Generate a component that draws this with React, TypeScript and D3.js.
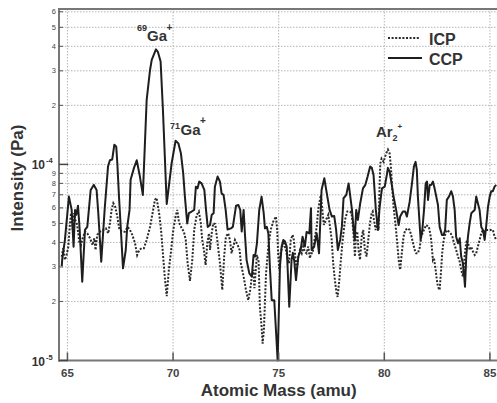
import React from "react";
import * as d3 from "d3";

// Intensities in units of 1e-5 Pa
const ccpMass = [64.73,64.75,64.88,65.07,65.20,65.29,65.36,65.42,65.50,65.58,
65.70,65.83,65.94,66.10,66.25,66.38,66.46,66.60,66.76,66.92,
67.01,67.12,67.22,67.31,67.36,67.44,67.53,67.63,67.76,67.83,
67.94,67.99,68.15,68.28,68.43,68.57,68.75,68.91,68.99,69.19,
69.28,69.41,69.52,69.70,69.93,70.12,70.25,70.37,70.48,70.56,
70.67,70.75,70.88,71.00,71.08,71.16,71.24,71.35,71.48,71.56,
71.64,71.75,71.83,71.92,71.98,72.11,72.22,72.30,72.39,72.49,
72.58,72.74,72.83,72.98,73.09,73.18,73.25,73.34,73.40,73.48,
73.61,73.73,73.81,73.88,73.97,74.08,74.19,74.29,74.35,74.44,
74.51,74.59,74.67,74.79,74.87,74.95,75.06,75.14,75.22,75.30,
75.38,75.50,75.61,75.67,75.74,75.82,75.93,76.04,76.13,76.24,
76.32,76.45,76.53,76.56,76.68,76.80,76.91,77.03,77.16,77.28,
77.41,77.52,77.63,77.72,77.80,77.91,77.99,78.07,78.20,78.31,
78.39,78.47,78.55,78.60,78.67,78.75,78.86,78.99,79.10,79.21,
79.33,79.41,79.49,79.60,79.70,79.78,79.89,80.02,80.12,80.17,
80.25,80.33,80.44,80.56,80.68,80.75,80.88,80.99,81.07,81.20,
81.31,81.40,81.48,81.54,81.59,81.67,81.72,81.80,81.88,81.96,
82.02,82.07,82.15,82.22,82.30,82.38,82.46,82.54,82.62,82.73,
82.81,82.88,82.96,83.06,83.17,83.25,83.33,83.40,83.49,83.57,
83.64,83.72,83.77,83.82,83.88,83.96,84.04,84.12,84.20,84.28,
84.35,84.43,84.51,84.59,84.67,84.75,84.82,84.91,84.99,85.06,
85.14,85.22,85.30];
const ccpVal = [3.03,3.26,4.12,6.85,5.86,3.8,5.86,5.53,6.15,4.63,
2.52,4.63,4.8,7.41,7.86,7.41,5.64,3.19,5.86,9.75,
10.5,10.6,12.6,12.3,10.2,6.85,4.63,2.95,3.66,4.8,
5.86,8.34,9.6,10.5,8.67,6.99,21.3,30.3,34.1,38.6,
37.5,33.5,19.0,6.29,10.1,13.2,12.8,11.4,9.0,6.85,
5.0,5.64,5.75,5.86,7.7,7.55,8.17,8.0,7.41,5.86,
4.8,4.91,5.53,5.64,7.7,8.67,8.17,7.1,6.99,5.86,
4.66,4.72,4.8,6.15,6.21,5.86,4.55,5.86,4.45,3.26,
2.78,2.68,3.45,3.39,3.96,5.86,6.85,5.64,4.72,4.8,
4.45,2.9,2.03,2.03,1.43,1.0,3.01,3.81,4.12,4.04,
3.81,1.88,3.26,3.54,3.2,2.57,3.39,3.66,4.28,3.81,
4.52,4.45,5.98,3.66,3.81,4.45,3.52,7.41,8.5,7.1,
5.86,5.42,5.45,4.63,3.66,4.12,4.8,6.72,6.99,8.0,
6.85,5.86,4.63,4.12,5.86,5.21,6.34,7.55,7.86,8.67,
9.75,9.6,8.84,5.86,4.63,6.08,7.55,7.7,8.84,9.6,
9.2,8.17,6.85,5.86,4.91,5.42,5.75,5.75,5.42,6.45,
8.0,9.75,10.3,9.37,6.85,5.0,4.12,4.63,5.86,8.0,
8.17,6.59,7.86,7.86,8.17,7.55,6.85,6.21,4.8,4.37,
4.37,4.63,6.59,6.85,7.3,6.85,5.86,4.28,3.96,4.2,
3.39,3.13,2.78,2.38,3.39,4.28,5.0,5.64,5.75,5.86,
6.85,6.34,5.86,4.8,4.63,4.12,4.8,6.08,6.85,7.3,
7.3,7.7,7.86];

const icpMass = [64.73,64.80,64.88,64.96,65.04,65.12,65.17,65.25,65.31,65.37,
65.46,65.56,65.64,65.72,65.83,65.94,66.07,66.19,66.27,66.33,
66.41,66.54,66.69,66.82,66.93,67.01,67.09,67.17,67.26,67.36,
67.45,67.57,67.72,67.85,67.96,68.07,68.20,68.30,68.40,68.51,
68.62,68.75,68.91,69.03,69.14,69.22,69.35,69.44,69.53,69.62,
69.70,69.80,69.90,70.01,70.12,70.20,70.28,70.41,70.51,70.60,
70.69,70.80,70.91,71.00,71.12,71.22,71.31,71.38,71.46,71.54,
71.62,71.70,71.75,71.83,71.90,72.00,72.11,72.22,72.33,72.42,
72.50,72.61,72.69,72.77,72.85,72.93,73.06,73.15,73.21,73.34,
73.45,73.56,73.65,73.73,73.81,73.85,73.97,74.05,74.11,74.19,
74.24,74.30,74.40,74.51,74.62,74.74,74.87,74.93,74.98,75.03,
75.09,75.17,75.25,75.34,75.40,75.49,75.57,75.66,75.72,75.77,
75.85,75.93,76.01,76.09,76.16,76.24,76.32,76.40,76.48,76.53,
76.61,76.68,76.80,76.87,76.95,77.00,77.08,77.14,77.24,77.35,
77.43,77.51,77.58,77.66,77.74,77.79,77.87,77.93,78.03,78.14,
78.25,78.37,78.45,78.53,78.61,78.66,78.72,78.78,78.85,78.93,
79.00,79.08,79.16,79.24,79.32,79.40,79.45,79.51,79.59,79.67,
79.73,79.77,79.81,79.87,79.97,80.02,80.09,80.17,80.25,80.31,
80.36,80.44,80.52,80.60,80.68,80.75,80.83,80.91,80.99,81.12,
81.20,81.27,81.36,81.44,81.51,81.59,81.67,81.75,81.83,81.91,
81.98,82.11,82.17,82.22,82.30,82.35,82.43,82.51,82.57,82.62,
82.69,82.74,82.81,82.90,82.98,83.06,83.14,83.22,83.33,83.40,
83.49,83.57,83.64,83.72,83.80,83.85,83.91,83.97,84.04,84.11,
84.20,84.28,84.35,84.43,84.51,84.59,84.67,84.75,84.82,84.99,
85.14,85.22,85.30];
const icpVal = [3.38,3.74,3.26,3.45,3.80,5.0,5.64,4.63,5.64,5.21,
4.91,4.04,3.88,4.2,4.54,4.45,4.2,3.88,4.2,3.66,
4.37,4.54,4.63,4.72,4.45,5.0,5.86,6.34,6.08,5.42,
4.72,4.54,4.54,4.8,4.63,4.37,3.96,3.45,3.66,3.74,
3.74,4.12,4.8,5.64,6.59,6.75,5.53,4.52,3.39,2.57,
2.13,2.9,3.58,4.63,5.42,5.86,5.05,4.72,4.54,4.12,
3.13,2.55,3.26,4.63,5.53,5.75,5.05,4.12,3.66,3.07,
3.96,4.45,3.66,4.47,5.0,4.96,3.96,3.13,2.29,3.39,
4.28,4.45,4.12,3.52,3.81,4.12,3.88,3.66,3.13,2.68,
2.29,2.03,2.29,2.68,2.9,2.34,3.45,3.19,1.88,1.49,
1.22,1.43,2.78,3.81,4.63,5.11,5.42,4.63,3.39,2.9,
3.52,3.81,3.96,3.66,3.39,3.13,4.12,4.37,4.12,3.52,
2.9,3.39,3.66,3.52,3.81,3.59,3.52,3.81,3.32,3.52,
3.52,4.04,4.8,5.86,6.59,6.99,5.64,4.91,5.21,5.53,
4.8,4.12,3.13,2.57,2.2,2.11,2.57,3.13,4.12,5.21,
5.75,5.75,5.64,4.63,3.39,4.47,4.54,3.66,3.26,4.28,
4.63,3.66,3.39,4.12,5.0,5.64,5.75,5.21,4.63,5.05,
4.63,7.41,10.1,10.7,10.3,10.8,11.4,11.9,11.4,9.75,
8.0,6.08,5.05,4.12,3.26,2.9,3.54,4.28,4.63,4.72,
4.63,4.37,3.97,3.66,3.52,3.52,3.74,4.28,4.52,4.72,
4.91,4.8,4.47,4.12,3.26,3.34,2.9,2.47,2.34,2.29,
2.9,3.52,4.12,4.45,4.63,4.54,4.45,4.28,3.88,3.66,
3.39,3.19,2.9,2.68,3.39,3.81,4.12,3.96,3.66,3.81,
3.59,3.45,3.52,3.81,4.12,4.45,4.63,4.54,4.63,4.63,
4.63,4.28,4.12];

const xTicks = [65, 70, 75, 80, 85];
const yMinorTicks = [2e-5,3e-5,4e-5,5e-5,6e-5,7e-5,8e-5,9e-5,2e-4,3e-4,4e-4,5e-4,6e-4];
const yMajorTicks = [1e-5, 1e-4];

const W = 497, H = 403;
const L = 59, R = 497, T = 9, B = 360.5;
const FONT = "'Liberation Sans', Arial, sans-serif";
const TXT = "#333";

export default function App() {
  const x = d3.scaleLinear().domain([64.6, 85.335]).range([L, R]);
  const y = d3.scaleLog().domain([1e-5, 6.2e-4]).range([B, T]);
  const ccp = ccpMass.map((m, i) => [m, ccpVal[i] * 1e-5] as [number, number]);
  const icp = icpMass.map((m, i) => [m, icpVal[i] * 1e-5] as [number, number]);
  const line = d3.line<[number, number]>().x(d => x(d[0])).y(d => y(d[1]));
  const grid = "#b5b5b5";
  return (
    <svg width={W} height={H} style={{ position: "absolute", left: 0, top: 0, background: "#fff" }} fontFamily={FONT}>
      <rect x={0} y={0} width={W} height={H} fill="#fff" />
      {/* grid */}
      {xTicks.map(t => (
        <line key={"gx" + t} x1={x(t)} x2={x(t)} y1={T} y2={B} stroke={grid} strokeWidth={1} strokeDasharray="1.5,1.5" />
      ))}
      {[...yMinorTicks, 1e-4].map(t => (
        <line key={"gy" + t} x1={L} x2={R} y1={y(t)} y2={y(t)} stroke={grid} strokeWidth={1} strokeDasharray="1.5,1.5" />
      ))}
      {/* data */}
      <path d={line(icp) || ""} fill="none" stroke="#2a2a2a" strokeWidth={2} strokeDasharray="2,1.6" />
      <path d={line(ccp) || ""} fill="none" stroke="#1e1e1e" strokeWidth={2} strokeLinejoin="round" />
      {/* frame */}
      <line x1={L} x2={L} y1={T - 1} y2={B + 1} stroke="#777" strokeWidth={2} />
      <line x1={L - 1} x2={R} y1={B} y2={B} stroke="#777" strokeWidth={2} />
      <line x1={L - 1} x2={R} y1={T} y2={T} stroke="#777" strokeWidth={2} />
      {/* ticks */}
      {xTicks.map(t => (
        <g key={"xt" + t}>
          <line x1={x(t)} x2={x(t)} y1={B} y2={B - 8} stroke="#555" strokeWidth={1.5} />
          <text x={x(t)} y={377} textAnchor="middle" fontSize={11.5} fontWeight="bold" fill="#444">{t}</text>
        </g>
      ))}
      {yMinorTicks.map(t => (
        <g key={"yt" + t}>
          <line x1={L} x2={L + 4} y1={y(t)} y2={y(t)} stroke="#555" strokeWidth={1} />
          <text x={56} y={y(t) + 2.5} textAnchor="end" fontSize={7.5} fill="#444">{Math.round(t / Math.pow(10, Math.floor(Math.log10(t) + 1e-9)))}</text>
        </g>
      ))}
      {yMajorTicks.map(t => (
        <g key={"ym" + t}>
          <line x1={L} x2={L + 9} y1={y(t)} y2={y(t)} stroke="#444" strokeWidth={1.5} />
          <text x={45} y={y(t) + 5} textAnchor="end" fontSize={12} fontWeight="bold" fill={TXT}>10</text>
          <text x={46} y={y(t) - 1} fontSize={7.5} fontWeight="bold" fill={TXT}>{"-" + Math.round(-Math.log10(t))}</text>
        </g>
      ))}
      {/* axis titles */}
      <text x={(x(65) + x(85)) / 2} y={396} textAnchor="middle" fontSize={17} fontWeight="bold" fill={TXT}>Atomic Mass (amu)</text>
      <text transform={`translate(23,${178}) rotate(-90)`} textAnchor="middle" fontSize={17} fontWeight="bold" fill={TXT}>Intensity (Pa)</text>
      {/* annotations */}
      <text x={137} y={31} fontSize={9} fontWeight="bold" fill={TXT}>69</text>
      <text x={147} y={41} fontSize={15} fontWeight="bold" fill={TXT}>Ga</text>
      <text x={166.5} y={31} fontSize={10} fontWeight="bold" fill={TXT}>+</text>
      <text x={170} y={128.5} fontSize={9} fontWeight="bold" fill={TXT}>71</text>
      <text x={180.5} y={134.5} fontSize={15} fontWeight="bold" fill={TXT}>Ga</text>
      <text x={200} y={124} fontSize={10} fontWeight="bold" fill={TXT}>+</text>
      <text x={376} y={136.5} fontSize={15} fontWeight="bold" fill={TXT}>Ar</text>
      <text x={392.5} y={140.5} fontSize={9} fontWeight="bold" fill={TXT}>2</text>
      <text x={397.5} y={129} fontSize={8} fontWeight="bold" fill={TXT}>+</text>
      {/* legend */}
      <line x1={388} x2={420} y1={38} y2={38} stroke="#2a2a2a" strokeWidth={2} strokeDasharray="2,1.6" />
      <text x={429} y={44.5} fontSize={16} fontWeight="bold" fill={TXT}>ICP</text>
      <line x1={388} x2={422} y1={58} y2={58} stroke="#1e1e1e" strokeWidth={2} />
      <text x={429} y={64.5} fontSize={16} fontWeight="bold" fill={TXT}>CCP</text>
    </svg>
  );
}
